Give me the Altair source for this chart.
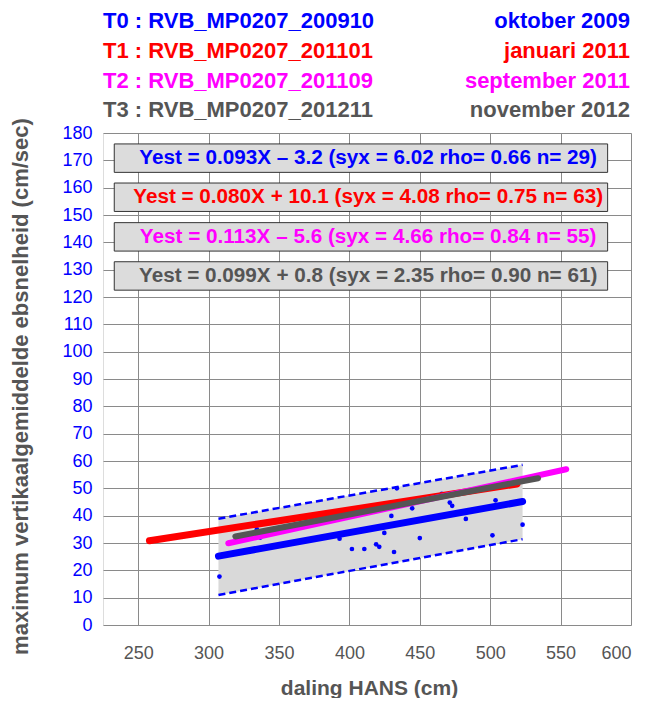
import altair as alt
import pandas as pd

# ---------------- data ----------------
series = ["T0", "T1", "T2", "T3"]
files = ["RVB_MP0207_200910", "RVB_MP0207_201101", "RVB_MP0207_201109", "RVB_MP0207_201211"]
dates = ["oktober 2009", "januari 2011", "september 2011", "november 2012"]
colors = ["#0000FF", "#FF0000", "#FF00FF", "#555555"]
equations = [
    "Yest = 0.093X \u2013 3.2 (syx = 6.02 rho= 0.66 n= 29)",
    "Yest = 0.080X + 10.1 (syx = 4.08 rho= 0.75 n= 63)",
    "Yest = 0.113X \u2013 5.6 (syx = 4.66 rho= 0.84 n= 55)",
    "Yest = 0.099X + 0.8 (syx = 2.35 rho= 0.90 n= 61)",
]

# regression line end points (x, y) per series
fit_x0 = [307, 258, 314, 319]
fit_x1 = [523, 519, 554, 534]
fit_y0 = [25.2, 30.8, 29.9, 32.4]
fit_y1 = [45.2, 51.6, 57.0, 53.7]

# T0 scatter points
t0_x = [307.7, 334.3, 336.7, 393.0, 401.8, 407.7, 410.6, 419.0, 421.2, 424.8, 429.8,
        431.7, 433.7, 444.6, 450.0, 465.6, 471.3, 473.0, 482.7, 501.6, 503.8, 523.0]
t0_y = [17.7, 35.0, 32.0, 31.6, 27.8, 34.7, 27.8, 29.5, 28.6, 33.7, 39.9,
        26.7, 50.0, 42.7, 31.8, 48.0, 44.8, 43.6, 38.8, 32.8, 45.6, 36.7]

# T0 confidence band (end points)
band_x = [307, 523]
band_lo = [11.0, 31.4]
band_hi = [38.9, 58.6]

x_ticks = [250, 300, 350, 400, 450, 500, 550, 600]
y_ticks = list(range(0, 190, 10))

# ---------------- layout constants ----------------
FONT = "Liberation Sans"
BOX_X1, BOX_X2 = 233.0, 583.4
BOX_TOP = [176.0, 161.7, 147.2, 132.9]
BOX_H = 10.4
TEXT_X = 413.3
LEG_Y = [-112, -82, -52.5, -23]

xscale = alt.Scale(domain=[225, 600], nice=False, zero=False)
yscale = alt.Scale(domain=[0, 180], nice=False, zero=True)

X_AX = alt.Axis(values=x_ticks, title="daling HANS (cm)", grid=True, gridColor="#8a8a8a",
                gridOpacity=1, ticks=False, domain=False, labelColor="#555555",
                labelFont=FONT, labelFontSize=18, labelPadding=19, labelOverlap=False,
                titleFont=FONT, titleFontSize=21, titleFontWeight="bold", titleColor="#555555",
                titleX=266, titleY=63, titleBaseline="middle", titleAlign="center")
Y_AX = alt.Axis(values=y_ticks, title="maximum vertikaalgemiddelde ebsnelheid (cm/sec)",
                grid=True, gridColor="#8a8a8a", gridOpacity=1, ticks=False, domain=False,
                labelColor="#0000FF", labelFont=FONT, labelFontSize=18, labelPadding=11,
                labelOverlap=False,
                titleFont=FONT, titleFontSize=22, titleFontWeight="bold", titleColor="#555555",
                titleX=-83, titleY=253, titleAngle=270, titleBaseline="middle", titleAlign="center")


def X(field):
    return alt.X(field, scale=xscale, axis=X_AX)


def Y(field):
    return alt.Y(field, scale=yscale, axis=Y_AX)


layers = []

band_df = pd.DataFrame({"x": band_x, "lo": band_lo, "hi": band_hi})
layers.append(alt.Chart(band_df).mark_area(color="#D9D9D9", opacity=1).encode(
    x=X("x:Q"), y=Y("lo:Q"), y2="hi:Q"))
for col in ["lo", "hi"]:
    layers.append(alt.Chart(band_df).mark_line(color="#0000FF", strokeWidth=2.5,
                                               strokeDash=[7, 4]).encode(
        x=X("x:Q"), y=Y(f"{col}:Q")))

pts_df = pd.DataFrame({"x": t0_x, "y": t0_y})
layers.append(alt.Chart(pts_df).mark_circle(color="#0000FF", size=22, opacity=1).encode(
    x=X("x:Q"), y=Y("y:Q")))

widths = [7, 7, 6, 6]
for i, s in enumerate(series):
    df = pd.DataFrame({"x": [fit_x0[i], fit_x1[i]], "y": [fit_y0[i], fit_y1[i]]})
    layers.append(alt.Chart(df).mark_line(color=colors[i], strokeWidth=widths[i],
                                          strokeCap="round").encode(
        x=X("x:Q"), y=Y("y:Q")))

# equation boxes
box_df = pd.DataFrame({
    "s": series,
    "eq": equations,
    "x1": [BOX_X1] * 4, "x2": [BOX_X2] * 4,
    "y1": BOX_TOP, "y2": [t - BOX_H for t in BOX_TOP],
    "tx": [TEXT_X] * 4, "ty": [t - BOX_H / 2 for t in BOX_TOP],
})
cscale = alt.Scale(domain=series, range=colors)
layers.append(alt.Chart(box_df).mark_rect(fill="#DCDCDC", stroke="#333333", strokeWidth=1).encode(
    x=X("x1:Q"), x2="x2:Q", y=Y("y1:Q"), y2="y2:Q"))
layers.append(alt.Chart(box_df).mark_text(font=FONT, fontSize=20.7, fontWeight="bold",
                                          align="center", baseline="middle").encode(
    x=X("tx:Q"), y=Y("ty:Q"),
    text="eq:N", color=alt.Color("s:N", scale=cscale, legend=None)))

# header legend
for i, s in enumerate(series):
    hdr = pd.DataFrame({"left": [f"{s} : {files[i]}"], "right": [dates[i]]})
    layers.append(alt.Chart(hdr).mark_text(font=FONT, fontSize=22, fontWeight="bold",
                                           align="left", baseline="middle",
                                           color=colors[i]).encode(
        x=alt.value(0), y=alt.value(LEG_Y[i]), text="left:N"))
    layers.append(alt.Chart(hdr).mark_text(font=FONT, fontSize=22, fontWeight="bold",
                                           align="right", baseline="middle",
                                           color=colors[i]).encode(
        x=alt.value(527), y=alt.value(LEG_Y[i]), text="right:N"))

chart = alt.layer(*layers).properties(
    width=528, height=492,
    padding={"left": 95, "top": 125, "right": 13, "bottom": 73},
    autosize=alt.AutoSizeParams(type="none"),
).configure_view(stroke="#333333", strokeWidth=1).configure(font=FONT)

chart.save("out.html", embed_options={"renderer": "svg", "actions": False})
